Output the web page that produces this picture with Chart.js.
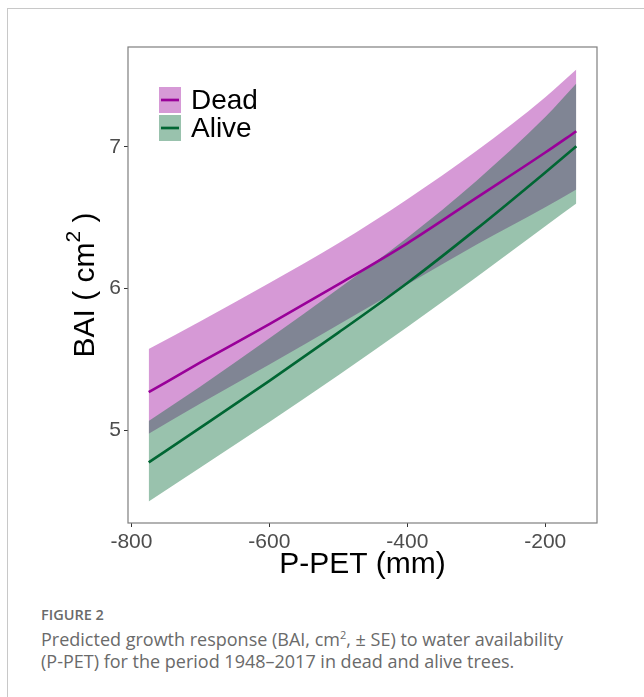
<!DOCTYPE html>
<html>
<head>
<meta charset="utf-8">
<script src="https://cdn.jsdelivr.net/npm/chart.js@4.4.1/dist/chart.umd.min.js"></script>
<style>
  html, body { margin: 0; padding: 0; background: #fff; }
  #wrap { position: relative; width: 644px; height: 697px; overflow: hidden; }
  #frame { position: absolute; left: 7px; top: 8px; width: 660px; height: 720px;
           border-left: 1px solid #c8c8c8; border-top: 1px solid #c8c8c8; }
  #chart { position: absolute; left: 0; top: 0; }
  #caption { position: absolute; left: 41px; top: 605px; width: 560px;
             font-family: "Open Sans", sans-serif; color: #6a6a6a; }
  #caption .fig { font-size: 14.5px; font-weight: 600; margin: 0 0 4px 0; }
  #caption p { margin: 0; font-size: 18px; line-height: 22px; }
  .nb { white-space: nowrap; }
</style>
</head>
<body>
<div id="wrap">
  <div id="frame"></div>
  <canvas id="chart" width="644" height="600"></canvas>
  <div id="caption">
    <div class="fig">FIGURE 2</div>
    <p>Predicted growth response (BAI, cm<sup style="font-size:11px;line-height:0">2</sup>, ± SE) to water availability <span class="nb">(P-PET)</span> for the period 1948–2017 in dead and alive trees.</p>
  </div>
</div>
<script>
// P-PET (mm) sample points along the fitted curves
const ppet = [-775, -700, -600, -500, -400, -300, -200, -155];

// predicted BAI, dead trees (fit, fit - SE, fit + SE)
const deadFit   = [5.27, 5.48, 5.75, 6.03, 6.32, 6.64, 6.96, 7.11];
const deadLow   = [4.977, 5.19, 5.465, 5.745, 6.03, 6.31, 6.575, 6.70];
const deadHigh  = [5.575, 5.77, 6.04, 6.32, 6.63, 6.97, 7.35, 7.545];

// predicted BAI, alive trees
const aliveFit  = [4.775, 5.02, 5.35, 5.69, 6.04, 6.42, 6.82, 7.005];
const aliveLow  = [4.50, 4.74, 5.06, 5.39, 5.73, 6.08, 6.44, 6.60];
const aliveHigh = [5.068, 5.31, 5.65, 6.00, 6.36, 6.76, 7.21, 7.446];

const xTicks = [-800, -600, -400, -200];
const yTicks = [5, 6, 7];
const seriesNames = ['Dead', 'Alive'];

const DEAD = 'rgb(153,0,153)';
const ALIVE = 'rgb(0,102,51)';
const DEAD_FILL = 'rgba(153,0,153,0.4)';
const ALIVE_FILL = 'rgba(0,102,51,0.4)';

const pts = ys => ppet.map((x, i) => ({ x: x, y: ys[i] }));

const base = { pointRadius: 0, pointHoverRadius: 0, cubicInterpolationMode: 'monotone' };

// panel border, y title with superscript and the legend
const extras = {
  id: 'extras',
  afterDraw(chart) {
    const ctx = chart.ctx;
    const a = chart.chartArea;
    ctx.save();
    ctx.strokeStyle = '#7f7f7f';
    ctx.lineWidth = 1.2;
    ctx.strokeRect(a.left, a.top, a.right - a.left, a.bottom - a.top);

    // y title
    const main = '30px "Liberation Sans", Arial, sans-serif';
    const sup = '21px "Liberation Sans", Arial, sans-serif';
    ctx.fillStyle = '#000';
    ctx.textBaseline = 'alphabetic';
    ctx.textAlign = 'left';
    ctx.font = main;
    const p1 = 'BAI ( cm', p3 = ' )';
    const w1 = ctx.measureText(p1).width, w3 = ctx.measureText(p3).width;
    ctx.font = sup;
    const w2 = ctx.measureText('2').width;
    const total = w1 + w2 + w3;
    ctx.translate(94, (a.top + a.bottom) / 2);
    ctx.rotate(-Math.PI / 2);
    let x0 = -total / 2;
    ctx.font = main;
    ctx.fillText(p1, x0, 0);
    ctx.font = sup;
    ctx.fillText('2', x0 + w1, -14);
    ctx.font = main;
    ctx.fillText(p3, x0 + w1 + w2, 0);
    ctx.restore();

    // legend
    ctx.save();
    const lx = a.left + 31, ly = a.top + 40;
    const fills = [DEAD_FILL, ALIVE_FILL], lines = [DEAD, ALIVE];
    seriesNames.forEach((name, i) => {
      const y = ly + i * 28;
      ctx.fillStyle = fills[i];
      ctx.fillRect(lx, y, 22, 26);
      ctx.strokeStyle = lines[i];
      ctx.lineWidth = 2.7;
      ctx.beginPath();
      ctx.moveTo(lx + 2, y + 13);
      ctx.lineTo(lx + 20, y + 13);
      ctx.stroke();
      ctx.fillStyle = '#000';
      ctx.font = '28px "Liberation Sans", Arial, sans-serif';
      ctx.textBaseline = 'middle';
      ctx.fillText(name, lx + 32, y + 14);
    });
    ctx.restore();
  }
};

new Chart(document.getElementById('chart'), {
  type: 'line',
  data: {
    datasets: [
      { ...base, label: 'Dead low', data: pts(deadLow), borderWidth: 0, fill: false, order: 4 },
      { ...base, label: 'Dead high', data: pts(deadHigh), borderWidth: 0, fill: '-1', backgroundColor: DEAD_FILL, order: 4 },
      { ...base, label: 'Alive low', data: pts(aliveLow), borderWidth: 0, fill: false, order: 3 },
      { ...base, label: 'Alive high', data: pts(aliveHigh), borderWidth: 0, fill: '-1', backgroundColor: ALIVE_FILL, order: 3 },
      { ...base, label: seriesNames[0], data: pts(deadFit), borderColor: DEAD, borderWidth: 2.6, fill: false, order: 1 },
      { ...base, label: seriesNames[1], data: pts(aliveFit), borderColor: ALIVE, borderWidth: 2.6, fill: false, order: 1 }
    ]
  },
  options: {
    responsive: false,
    animation: false,
    layout: { padding: { left: 0, top: 47, right: 47, bottom: 17 } },
    plugins: { legend: { display: false }, tooltip: { enabled: false } },
    scales: {
      x: {
        type: 'linear',
        min: -805, max: -125,
        afterBuildTicks: s => { s.ticks = xTicks.map(v => ({ value: v })); },
        afterFit: s => { s.height = 60; },
        grid: { drawOnChartArea: false, tickLength: 4, color: '#333' },
        border: { display: false },
        ticks: { color: '#4d4d4d', padding: 3, maxRotation: 0,
                 font: { size: 21, family: '"Liberation Sans", Arial, sans-serif' } },
        title: { display: true, text: 'P-PET (mm)', color: '#000', padding: 0,
                 font: { size: 30, family: '"Liberation Sans", Arial, sans-serif' } }
      },
      y: {
        min: 4.348, max: 7.704,
        afterBuildTicks: s => { s.ticks = yTicks.map(v => ({ value: v })); },
        afterFit: s => { s.width = 128; },
        grid: { drawOnChartArea: false, tickLength: 4, color: '#333' },
        border: { display: false },
        ticks: { color: '#4d4d4d', padding: 3,
                 font: { size: 21, family: '"Liberation Sans", Arial, sans-serif' } }
      }
    }
  },
  plugins: [extras]
});
</script>
</body>
</html>
